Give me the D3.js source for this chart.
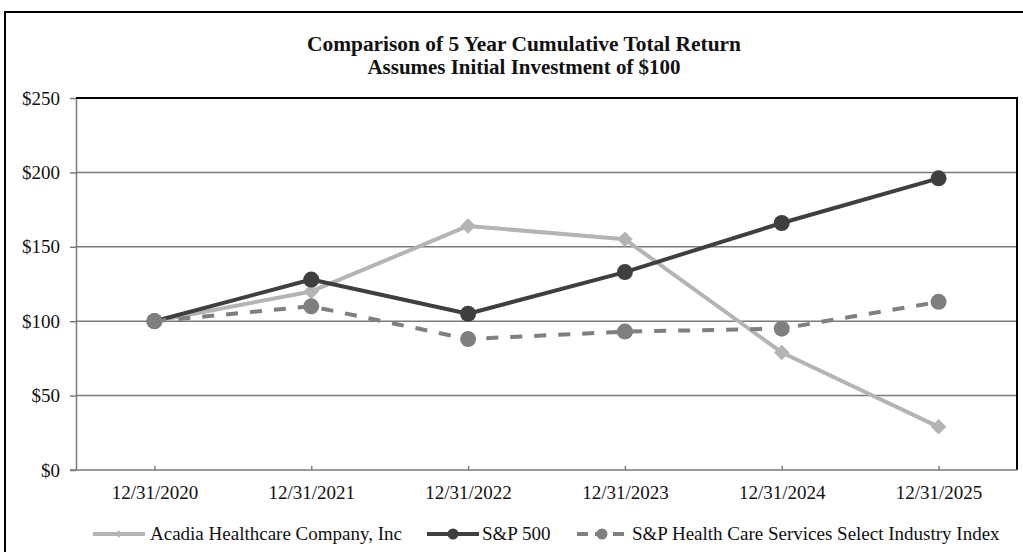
<!DOCTYPE html>
<html><head><meta charset="utf-8">
<script src="https://cdn.jsdelivr.net/npm/d3@7"></script>
<style>body{margin:0;background:#fff}svg{display:block}text{font-family:"Liberation Serif","Times New Roman",serif;fill:#111}</style>
</head><body><svg id="c" width="1023" height="552"></svg>
<script>
const categories = ["12/31/2020","12/31/2021","12/31/2022","12/31/2023","12/31/2024","12/31/2025"];
const acadia = [100, 120, 164, 155, 79, 29];
const sp500 = [100, 128, 105, 133, 166, 196];
const hcIndex = [100, 110, 88, 93, 95, 113];
const yTicks = [0, 50, 100, 150, 200, 250];
const seriesNames = ["Acadia Healthcare Company, Inc", "S&P 500", "S&P Health Care Services Select Industry Index"];
const titleLines = ["Comparison of 5 Year Cumulative Total Return", "Assumes Initial Investment of $100"];

const svg = d3.select("#c");
const L = 76, R = 1017, T = 98, B = 470;
const x = d3.scalePoint().domain(categories).range([L, R]).padding(0.5);
const y = d3.scaleLinear().domain([0, 250]).range([B, T]);

// outer border
svg.append("rect").attr("x",5).attr("y",12).attr("width",1030).attr("height",600)
  .attr("fill","none").attr("stroke","#000").attr("stroke-width",2);

// title
const titleWidths = [434, 313];
svg.selectAll(".title").data(titleLines).join("text")
  .attr("x",524).attr("y",(d,i)=>51+i*23).attr("text-anchor","middle")
  .attr("font-size",20).attr("font-weight","bold")
  .attr("textLength",(d,i)=>titleWidths[i]).attr("lengthAdjust","spacingAndGlyphs").text(d=>d);

// gridlines
svg.append("g").selectAll("line").data(yTicks.filter(v=>v>0 && v<250)).join("line")
  .attr("x1",L).attr("x2",R).attr("y1",d=>y(d)).attr("y2",d=>y(d))
  .attr("stroke","#7a7a7a").attr("stroke-width",1.5);
// top & right frame
svg.append("path").attr("d",`M${L},${y(250)}H${R}V${B}`).attr("fill","none").attr("stroke","#000").attr("stroke-width",2);

// y axis
const yAxis = svg.append("g").attr("transform",`translate(${L},0)`)
  .call(d3.axisLeft(y).tickValues(yTicks).tickFormat(d=>"$"+d).tickSize(6).tickSizeOuter(0));
yAxis.select(".domain").attr("stroke","#7a7a7a").attr("stroke-width",1.5);
yAxis.selectAll(".tick line").attr("stroke","#7a7a7a").attr("stroke-width",1.5);
yAxis.selectAll(".tick text").attr("font-size",19).attr("x",-16).attr("fill","#111")
  .attr("font-family",'"Liberation Serif",serif');

// x axis
const xAxis = svg.append("g").attr("transform",`translate(0,${B})`)
  .call(d3.axisBottom(x).tickSize(-4).tickSizeOuter(0));
xAxis.select(".domain").attr("d",`M${L-6},0H${R}`).attr("stroke","#7a7a7a").attr("stroke-width",1.5);
xAxis.selectAll(".tick line").attr("stroke","#7a7a7a").attr("stroke-width",1.5);
xAxis.selectAll(".tick text").attr("font-size",19).attr("y",16).attr("fill","#111")
  .attr("font-family",'"Liberation Serif",serif');

const sAcadia = {name:seriesNames[0], vals:acadia, color:"#b4b4b4", width:4, dash:null, marker:"diamond"};
const sSP = {name:seriesNames[1], vals:sp500, color:"#3f3f3f", width:4, dash:null, marker:"circle"};
const sHC = {name:seriesNames[2], vals:hcIndex, color:"#7f7f7f", width:4, dash:"12,12", marker:"circle"};
const line = d3.line().x((d,i)=>x(categories[i])).y(d=>y(d));
[sAcadia, sSP, sHC].forEach(s=>{
  svg.append("path").datum(s.vals).attr("d",line).attr("fill","none")
    .attr("stroke",s.color).attr("stroke-width",s.width)
    .attr("stroke-dasharray",s.dash).attr("stroke-linejoin","round");
  const g = svg.append("g");
  if (s.marker==="circle") {
    g.selectAll("circle").data(s.vals).join("circle")
      .attr("cx",(d,i)=>x(categories[i])).attr("cy",d=>y(d)).attr("r",8).attr("fill",s.color);
  } else {
    g.selectAll("path").data(s.vals).join("path")
      .attr("d",d3.symbol(d3.symbolSquare,120))
      .attr("transform",(d,i)=>`translate(${x(categories[i])},${y(d)}) rotate(45)`).attr("fill",s.color);
  }
});

// legend
const lg = svg.append("g");
const ly = 534;
[{s:sAcadia,x1:93,x2:145,tx:150},{s:sSP,x1:427,x2:479,tx:482},{s:sHC,x1:577,x2:627,tx:632}].forEach(it=>{
  const g = lg.append("g");
  g.append("line").attr("x1",it.x1).attr("x2",it.x2).attr("y1",ly).attr("y2",ly)
    .attr("stroke",it.s.color).attr("stroke-width",it.s.width).attr("stroke-dasharray",it.s.dash? "11,7":null);
  const mx = (it.x1+it.x2)/2;
  if (it.s.marker==="circle") g.append("circle").attr("cx",mx).attr("cy",ly).attr("r",5.5).attr("fill",it.s.color);
  else g.append("path").attr("d",d3.symbol(d3.symbolSquare,30)).attr("transform",`translate(${mx},${ly}) rotate(45)`).attr("fill",it.s.color);
  g.append("text").attr("x",it.tx).attr("y",ly+6).attr("font-size",19).text(it.s.name);
});
</script></body></html>
